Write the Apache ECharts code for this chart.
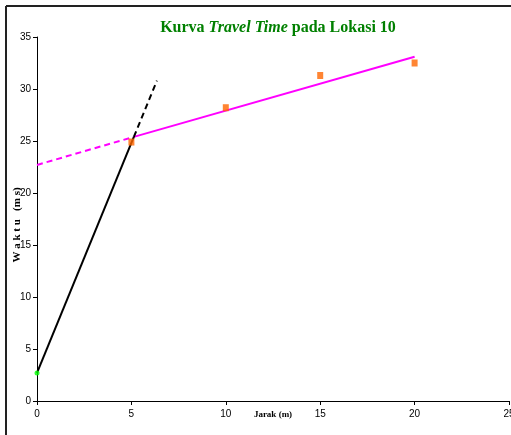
<!DOCTYPE html>
<html>
<head>
<meta charset="utf-8">
<script src="https://cdn.jsdelivr.net/npm/echarts@6/dist/echarts.min.js"></script>
<style>
  html, body { margin: 0; padding: 0; background: #fff; }
  #chart { width: 511px; height: 435px; }
</style>
</head>
<body>
<div id="chart"></div>
<script>
// Measured arrival times per geophone distance
var jarak = [0, 5, 10, 15, 20];
var waktu = [2.7, 24.9, 28.2, 31.3, 32.5];

// Direct-wave fit (black) and refracted-wave fit (magenta), as endpoints
var directSolid = [[0, 2.7], [5.13, 25.4]];
var directExt = [[5.13, 25.4], [6.35, 30.8]];
var refrExt = [[0, 22.7], [5.13, 25.4]];
var refrSolid = [[5.13, 25.4], [20, 33.1]];

var xTicks = [0, 5, 10, 15, 20, 25];
var yTicks = [0, 5, 10, 15, 20, 25, 30, 35];

var chart = echarts.init(document.getElementById('chart'));

function lineSeries(data, color, type) {
  return {
    type: 'line', data: data, symbol: 'none', silent: true,
    lineStyle: { color: color, width: 2, type: type },
    z: 2
  };
}

chart.setOption({
  animation: false,
  backgroundColor: '#fff',
  title: {
    text: '{n|Kurva }{i|Travel Time}{n| pada Lokasi 10}',
    left: 273, top: 15, textAlign: 'center',
    textStyle: {
      rich: {
        n: { fontFamily: 'Liberation Serif', fontSize: 16, fontWeight: 'bold', color: '#008000' },
        i: { fontFamily: 'Liberation Serif', fontSize: 16, fontWeight: 'bold', fontStyle: 'italic', color: '#008000' }
      }
    }
  },
  grid: { left: 37, right: 2, top: 37, bottom: 34, outerBoundsMode: 'none', containLabel: false },
  xAxis: {
    type: 'value', min: 0, max: 25, interval: 5,
    name: 'Jarak (m)', nameLocation: 'middle', nameGap: 9, nameMoveOverlap: false,
    nameTextStyle: { fontFamily: 'Liberation Serif', fontSize: 9, fontWeight: 'bold', color: '#000' },
    axisLine: { show: true, lineStyle: { color: '#000', width: 1 } },
    axisTick: { show: true, length: 4, lineStyle: { color: '#000' } },
    axisLabel: { fontFamily: 'Liberation Sans', fontSize: 10, color: '#000', margin: 8, showMaxLabel: true,
      formatter: function (v) { return xTicks.indexOf(v) >= 0 ? String(v) : ''; } },
    splitLine: { show: false }
  },
  yAxis: {
    type: 'value', min: 0, max: 35, interval: 5,
    name: 'W a k t u   (m s)', nameLocation: 'middle', nameGap: 14, nameMoveOverlap: false,
    nameTextStyle: { fontFamily: 'Liberation Serif', fontSize: 11, fontWeight: 'bold', color: '#000', padding: [0, 12, 0, 0] },
    axisLine: { show: true, lineStyle: { color: '#000', width: 1 } },
    axisTick: { show: true, length: 4, lineStyle: { color: '#000' } },
    axisLabel: { fontFamily: 'Liberation Sans', fontSize: 10, color: '#000', margin: 6,
      formatter: function (v) { return yTicks.indexOf(v) >= 0 ? String(v) : ''; } },
    splitLine: { show: false }
  },
  graphic: [
    { type: 'line', shape: { x1: 6, y1: 6, x2: 511, y2: 6 }, style: { stroke: '#222', lineWidth: 2 } },
    { type: 'line', shape: { x1: 6, y1: 6, x2: 6, y2: 435 }, style: { stroke: '#222', lineWidth: 2 } }
  ],
  series: [
    lineSeries(refrExt, '#ff00ff', [6, 4]),
    lineSeries(refrSolid, '#ff00ff', 'solid'),
    lineSeries(directSolid, '#000000', 'solid'),
    lineSeries(directExt, '#000000', [6, 4]),
    {
      type: 'scatter', z: 3,
      data: jarak.slice(1).map(function (x, i) { return [x, waktu[i + 1]]; }),
      symbol: 'rect', symbolSize: [6, 7],
      itemStyle: { color: '#ff6600' }
    },
    {
      type: 'scatter', z: 3,
      data: [[jarak[0], waktu[0]]],
      symbol: 'circle', symbolSize: 5,
      itemStyle: { color: '#00ff00' }
    }
  ]
});
</script>
</body>
</html>
